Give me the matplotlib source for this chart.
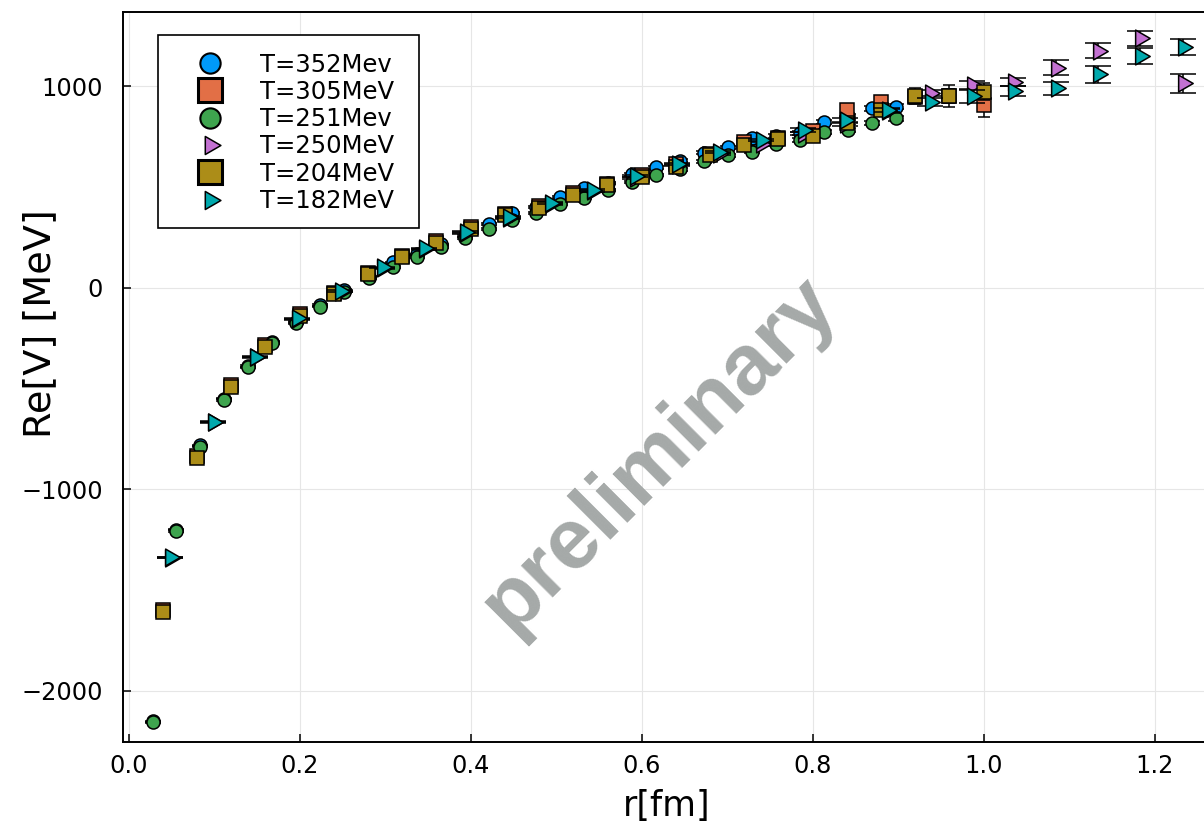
"""Re[V] vs r for several temperatures, Plots.jl/GR look."""

import matplotlib

matplotlib.use("Agg")
import matplotlib.pyplot as plt
from matplotlib.lines import Line2D
from matplotlib.patches import Rectangle
from matplotlib.path import Path

plt.rcParams["font.family"] = ["DejaVu Sans"]

# lattice separations [fm]
r_fine = [0.028, 0.056, 0.084, 0.112, 0.140, 0.168, 0.196, 0.224, 0.252, 0.281,
          0.309, 0.337, 0.365, 0.393, 0.421, 0.449, 0.477, 0.505, 0.533, 0.561,
          0.589, 0.617, 0.645, 0.673, 0.701, 0.729, 0.757, 0.785, 0.813, 0.842,
          0.870, 0.898]
r_mid = [0.04, 0.08, 0.12, 0.16, 0.20, 0.24, 0.28, 0.32, 0.36, 0.40, 0.44, 0.48,
         0.52, 0.56, 0.60, 0.64, 0.68, 0.72, 0.76, 0.80, 0.84, 0.88, 0.92, 0.96, 1.00]
r_coarse = [0.049, 0.099, 0.148, 0.197, 0.247, 0.296, 0.345, 0.394, 0.444, 0.493,
            0.542, 0.592, 0.641, 0.690, 0.740, 0.789, 0.838, 0.887, 0.937, 0.986,
            1.035, 1.085, 1.134, 1.183, 1.233]

# Re[V] [MeV] and errors
v_352 = [-2150, -1200, -782, -550, -388, -268, -168, -86, -12, 55, 126, 165, 215,
         258, 316, 369, 400, 451, 496, 520, 562, 597, 630, 670, 696, 741, 752, 770,
         823, 850, 890, 898]
e_352 = [3, 3, 3, 3, 3, 3, 3, 3, 4, 4, 4, 4, 4, 5, 5, 5, 5, 6, 6, 6, 7, 7, 7, 8, 8,
         9, 9, 10, 10, 11, 12, 12]
v_305 = [-1600, -836, -484, -286, -132, -24, 72, 158, 230, 300, 368, 405, 468, 516,
         560, 612, 664, 724, 745, 779, 880, 921, 945, 950, 906]
e_305 = [3, 3, 3, 3, 3, 3, 4, 4, 4, 4, 5, 5, 5, 6, 6, 7, 8, 9, 10, 12, 18, 22, 30,
         35, 59]
v_251 = [-2156, -1207, -789, -557, -395, -276, -176, -94, -20, 47, 104, 154, 203,
         245, 291, 336, 369, 415, 445, 485, 526, 559, 588, 628, 658, 675, 712, 732,
         774, 782, 818, 840]
e_251 = [3, 3, 3, 3, 3, 3, 3, 3, 4, 4, 4, 4, 4, 5, 5, 5, 5, 5, 6, 6, 6, 6, 7, 7, 7,
         8, 8, 9, 9, 10, 10, 11]
v_250 = [-1340, -668, -346, -156, -20, 97, 190, 273, 346, 414, 480, 546, 608, 664,
         715, 765, 810, 878, 964, 1005, 1022, 1091, 1176, 1237, 1014]
e_250 = [3, 3, 3, 3, 3, 3, 4, 4, 4, 5, 5, 5, 6, 6, 7, 8, 9, 10, 15, 20, 20, 37, 37,
         36, 47]
v_204 = [-1607, -843, -491, -293, -139, -31, 66, 151, 223, 292, 361, 398, 460, 509,
         551, 600, 658, 708, 737, 752, 815, 881, 951, 950, 972]
e_204 = [3, 3, 3, 3, 3, 3, 4, 4, 4, 4, 5, 5, 5, 6, 6, 7, 8, 9, 10, 12, 16, 25, 41,
         55, 42]
v_182 = [-1337, -665, -342, -152, -16, 101, 195, 278, 352, 420, 486, 553, 615, 673,
         733, 782, 832, 882, 920, 950, 976, 989, 1058, 1149, 1195]
e_182 = [3, 3, 3, 3, 3, 3, 4, 4, 4, 5, 5, 5, 6, 6, 7, 8, 10, 12, 20, 32, 27, 31, 40,
         40, 40]

labels = ["T=352Mev", "T=305MeV", "T=251Mev", "T=250MeV", "T=204MeV", "T=182MeV"]
x_ticks = [0.0, 0.2, 0.4, 0.6, 0.8, 1.0, 1.2]
x_ticklabels = ["0.0", "0.2", "0.4", "0.6", "0.8", "1.0", "1.2"]
y_ticks = [-2000, -1000, 0, 1000]
y_ticklabels = ["\u22122000", "\u22121000", "0", "1000"]

# right-pointing equilateral triangle, centroid at the origin (GR style)
tri = Path([(-0.2887, 0.5), (-0.2887, -0.5), (0.5774, 0.0), (-0.2887, 0.5)],
           [Path.MOVETO, Path.LINETO, Path.LINETO, Path.CLOSEPOLY])

series = [
    # r, v, err, colour, marker, ms, capsize, legend ms, legend mew
    (r_fine, v_352, e_352, "#009afa", "o", 9.4, 6.0, 14.6, 1.5),
    (r_mid, v_305, e_305, "#e26f46", "s", 9.4, 4.3, 17.5, 2.2),
    (r_fine, v_251, e_251, "#3ea44e", "o", 9.4, 6.0, 14.6, 1.5),
    (r_coarse, v_250, e_250, "#c371d2", tri, 14.0, 9.2, 15.0, 1.1),
    (r_mid, v_204, e_204, "#ac8d18", "s", 9.4, 4.3, 17.5, 2.2),
    (r_coarse, v_182, e_182, "#00a9ad", tri, 14.0, 9.2, 15.0, 1.1),
]

fig = plt.figure(figsize=(12.04, 8.27), dpi=100)
ax = fig.add_axes([0.1019, 0.1022, 0.928, 0.8833])

handles = []
for i, (r, v, e, col, mk, ms, cs, lms, lmew) in enumerate(series):
    z = 3 + i
    ax.errorbar(r, v, yerr=e, fmt="none", ecolor="black", elinewidth=1.1,
                capsize=cs, capthick=1.1, zorder=z)
    ax.plot(r, v, linestyle="none", marker=mk, ms=ms, mfc=col, mec="black",
            mew=1.1, zorder=z + 0.5)
    handles.append(Line2D([], [], linestyle="none", marker=mk, ms=lms, mfc=col,
                          mec="black", mew=lmew))

ax.set_xlim(-0.0069, 1.30)
ax.set_ylim(-2256, 1368)
ax.set_xticks(x_ticks)
ax.set_xticklabels(x_ticklabels)
ax.set_yticks(y_ticks)
ax.set_yticklabels(y_ticklabels)
ax.tick_params(direction="in", length=6, width=1.1, labelsize=17.3)
ax.tick_params(axis="y", pad=14)
ax.tick_params(axis="x", pad=8)
ax.grid(True, color="#e6e6e6", linewidth=0.8, zorder=0)
ax.set_axisbelow(True)
for sp in ax.spines.values():
    sp.set_linewidth(1.4)

ax.set_xlabel("r[fm]", fontsize=25)
ax.xaxis.set_label_coords(0.487, -0.087)
ax.xaxis.label.set_verticalalignment("center")
ax.set_ylabel("Re[V] [MeV]", fontsize=27.5)
ax.yaxis.set_label_coords(-0.074, 0.573)
ax.yaxis.label.set_verticalalignment("center")

ax.text(0.548, 0.45, "preliminary", transform=fig.transFigure, ha="center",
        va="center", rotation=45, rotation_mode="anchor", fontsize=62,
        fontweight="bold", family="Liberation Sans", color="#a5a9a8", zorder=1)

# legend with a square black frame
fig.add_artist(Rectangle((158.3 / 1204, 1 - 228.3 / 827), (419 - 158.3) / 1204,
                         (228.3 - 35) / 827, transform=fig.transFigure,
                         facecolor="white", edgecolor="black", linewidth=1.2,
                         zorder=4))
fig.legend(handles, labels, loc="upper left",
           bbox_to_anchor=(158.3 / 1204, 1 - 35 / 827),
           bbox_transform=fig.transFigure, frameon=False, fontsize=17.5,
           borderpad=0.72, labelspacing=0.136, handlelength=2.85,
           handletextpad=0.6, borderaxespad=0)

fig.savefig("out.png", dpi=100)
